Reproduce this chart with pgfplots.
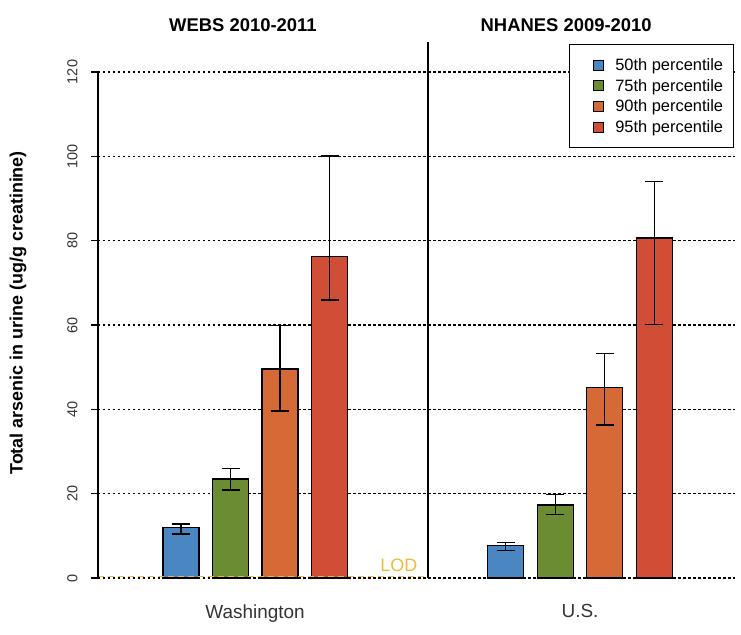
\documentclass[border=0pt]{standalone}
\usepackage{pgfplots}
\pgfplotsset{compat=1.18}
\usepackage{fontspec}
\setmainfont{Liberation Sans}
\definecolor{cblue}{HTML}{4A86C2}
\definecolor{cgreen}{HTML}{6B8C32}
\definecolor{corange}{HTML}{D66A37}
\definecolor{cred}{HTML}{CF4E35}
\definecolor{lodc}{HTML}{EEBB3A}
\begin{document}
\begin{tikzpicture}
\useasboundingbox (-98bp,-57bp) rectangle (643bp,578bp);
\begin{axis}[
  scale only axis,
  width=637bp, height=506bp,
  xmin=-0.677, xmax=12.19,
  ymin=0, ymax=120,
  clip=false,
  axis line style={draw=none},
  xtick={2.495,9.06},
  xticklabels={Washington, U.S.},
  xtick pos=bottom, ytick pos=left,
  xtick style={draw=none},
  xticklabel style={font=\fontsize{19}{21}\selectfont, yshift=-16bp, text=black!80},
  ytick={0,20,...,120},
  tick align=outside,
  major tick length=7bp,
  ytick style={draw=black, line width=1.3bp},
  yticklabel style={font=\fontsize{14.5}{17}\selectfont, rotate=90, anchor=south, text=black!80},
  yticklabel shift=10bp,
  /pgf/number format/assume math mode=true,
  ymajorgrids,
  grid style={black, line width=1.1bp, dash pattern=on 2.5bp off 2.5bp},
  every axis y label/.style={at={(axis description cs:-0.1256,0.524)}, rotate=90, anchor=center, font=\bfseries\fontsize{18}{20}\selectfont},
  ylabel={Total arsenic in urine (ug/g creatinine)},
  legend style={at={(0.998,1.055)}, anchor=north east, draw=black, line width=1.2bp,
    font=\fontsize{16.5}{19}\selectfont, row sep=3.5bp, inner xsep=8bp, inner ysep=11.5bp,
    cells={anchor=west}},
  legend image code/.code={\path[draw=none,fill=none] (-12bp,0bp) -- (24bp,0bp); \draw[#1, draw=black, line width=0.9bp] (4bp,-5bp) rectangle (14bp,5bp);},
  error bars/y dir=both, error bars/y explicit,
  error bars/error bar style={black, line width=1.3bp},
  error bars/error mark options={rotate=90, black, line width=1.3bp, mark size=9bp},
]
\addplot[ybar, bar width=36bp, bar shift=0pt, fill=cblue, draw=black, line width=1.3bp]
  coordinates {(1,11.9) += (0,0.9) -= (0,1.5) (7.56,7.75) += (0,0.75) -= (0,1.15)};
\addlegendentry{50th percentile}
\addplot[ybar, bar width=36bp, bar shift=0pt, fill=cgreen, draw=black, line width=1.3bp]
  coordinates {(2,23.5) += (0,2.5) -= (0,2.6) (8.56,17.3) += (0,2.5) -= (0,2.2)};
\addlegendentry{75th percentile}
\addplot[ybar, bar width=36bp, bar shift=0pt, fill=corange, draw=black, line width=1.3bp]
  coordinates {(3,49.6) += (0,10.2) -= (0,10.0) (9.56,45.1) += (0,8.1) -= (0,8.8)};
\addlegendentry{90th percentile}
\addplot[ybar, bar width=36bp, bar shift=0pt, fill=cred, draw=black, line width=1.3bp]
  coordinates {(4,76.2) += (0,23.9) -= (0,10.3) (10.56,80.6) += (0,13.5) -= (0,20.4)};
\addlegendentry{95th percentile}
\addplot[lodc, line width=1.3bp, dash pattern=on 6bp off 4bp, forget plot]
  coordinates {(-0.677,0.4) (5.99,0.4)};
\draw[black, line width=1.3bp] (axis cs:-0.677,0) -- (axis cs:-0.677,120);
\pgfplotsinvokeforeach{0,20,40,60,80,100,120}{
  \draw[black, line width=1.3bp] (axis cs:-0.677,#1) -- ++(-7bp,0bp);
}
\draw[black, line width=1.3bp] (axis cs:5.99,0) -- (axis cs:5.99,127.1);
\node[text=lodc, font=\fontsize{18}{20}\selectfont] at (axis cs:5.40,2.9) {LOD};
\node[font=\bfseries\fontsize{18.5}{21}\selectfont] at (axis cs:2.25,131.2) {WEBS 2010-2011};
\node[font=\bfseries\fontsize{18.5}{21}\selectfont] at (axis cs:8.78,131.2) {NHANES 2009-2010};
\end{axis}
\end{tikzpicture}
\end{document}
